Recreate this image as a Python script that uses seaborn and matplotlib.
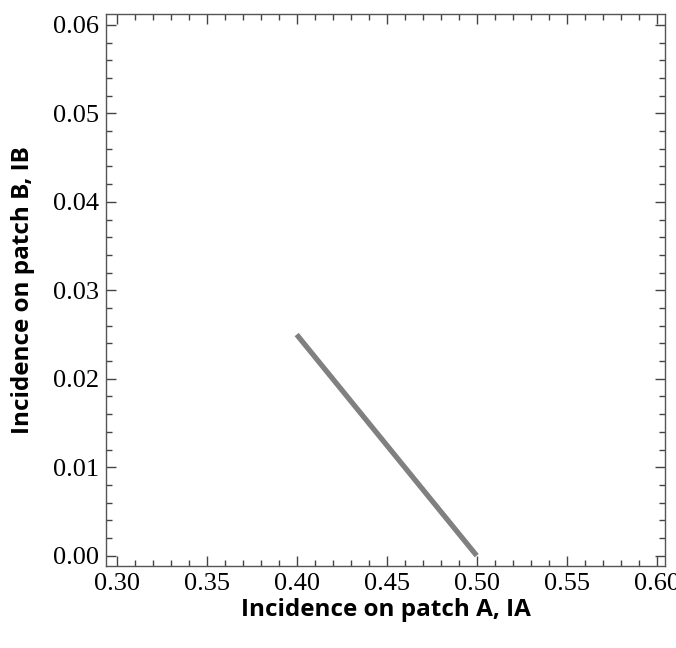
import matplotlib
matplotlib.use("Agg")
import matplotlib.pyplot as plt
from matplotlib.ticker import MultipleLocator, FormatStrFormatter
import seaborn as sns
import pandas as pd

# Data
incidence_A = [0.40, 0.50]
incidence_B = [0.025, 0.0]
x_label = "Incidence on patch A, IA"
y_label = "Incidence on patch B, IB"

df = pd.DataFrame({"IA": incidence_A, "IB": incidence_B})

sns.set_style("ticks")
plt.rcParams["font.family"] = ["Liberation Serif", "DejaVu Serif"]

fig = plt.figure(figsize=(6.76, 6.48), dpi=100)
ax = fig.add_axes([106/676, 1-566/648, (665-106)/676, (566-14)/648])

sns.lineplot(data=df, x="IA", y="IB", ax=ax, color="#808080", linewidth=3.8,
             solid_capstyle="butt")

ax.set_xlim(0.2941, 0.6046)
ax.set_ylim(-0.00117, 0.06124)

ax.xaxis.set_major_locator(MultipleLocator(0.05))
ax.xaxis.set_minor_locator(MultipleLocator(0.01))
ax.yaxis.set_major_locator(MultipleLocator(0.01))
ax.yaxis.set_minor_locator(MultipleLocator(0.002))
ax.xaxis.set_major_formatter(FormatStrFormatter("%.2f"))
ax.yaxis.set_major_formatter(FormatStrFormatter("%.2f"))

ax.tick_params(which="both", direction="in", top=True, right=True, color="#444444",
               width=1.0, labelcolor="black")
ax.tick_params(which="major", length=7, labelsize=19, pad=5)
ax.tick_params(which="minor", length=4)

for sp in ax.spines.values():
    sp.set_color("#555555")
    sp.set_linewidth(1.0)

ax.set_xlabel(x_label, fontsize=17.5, fontweight="bold", family="Open Sans",
              color="black", labelpad=2)
ax.set_ylabel(y_label, fontsize=17.5, fontweight="bold", family="Open Sans",
              color="black", labelpad=13)

fig.savefig("out.png", dpi=100)
